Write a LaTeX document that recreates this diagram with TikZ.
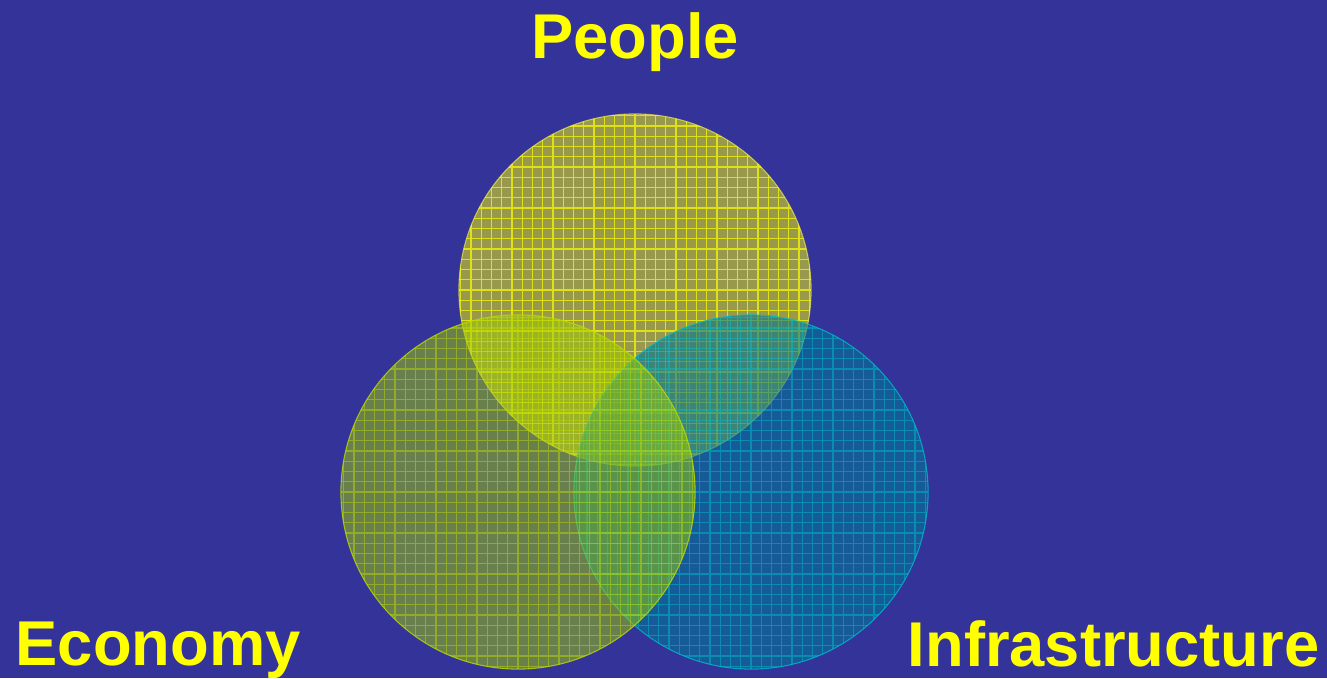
\documentclass[tikz,border=0pt]{standalone}
\usepackage{fontspec}
\setmainfont{Liberation Sans}
\definecolor{bgblue}{RGB}{51,51,153}
\definecolor{ppl}{RGB}{255,255,0}
\definecolor{eco}{RGB}{160,205,0}
\definecolor{infra}{RGB}{0,118,150}
\begin{document}
\begin{tikzpicture}
    [x=0.01cm,y=-0.01cm,
     label/.style={text=ppl,font=\fontsize{18}{20}\selectfont\bfseries,inner sep=0},
     disc/.style={circle,minimum size=3.54cm,inner sep=0,line width=0.3pt},
     gridlines/.style={step=0.1025cm,line width=0.35pt}]
    \fill[bgblue] (0,0) rectangle (1327,678);
    \useasboundingbox (0,0) rectangle (1327,678);
    \node[disc,minimum size=3.52cm,draw=ppl!70!white,draw opacity=0.6,fill=ppl,fill opacity=0.5,
      path picture={\draw[gridlines,draw=ppl,opacity=0.7] (path picture bounding box.south west) grid (path picture bounding box.north east);}] (people) at (635,290) {};
    \node[disc,draw=infra!50!cyan,draw opacity=0.8,fill=infra,fill opacity=0.6,
      path picture={\draw[gridlines,draw=infra!40!cyan,opacity=0.45] (path picture bounding box.south west) grid (path picture bounding box.north east);}] (infra) at (751,492) {};
    \node[disc,draw=eco!70!yellow,draw opacity=0.8,fill=eco,fill opacity=0.5,
      path picture={\draw[gridlines,draw=eco!60!yellow,opacity=0.45] (path picture bounding box.south west) grid (path picture bounding box.north east);}] (econ) at (518,492) {};
    \node[label,anchor=base] (tpeople) at (635,58) {People};
    \node[label,anchor=base west] (tecon) at (15,665) {Economy};
    \node[label,anchor=base east] (tinfra) at (1320,666) {Infrastructure};
  \end{tikzpicture}
\end{document}
